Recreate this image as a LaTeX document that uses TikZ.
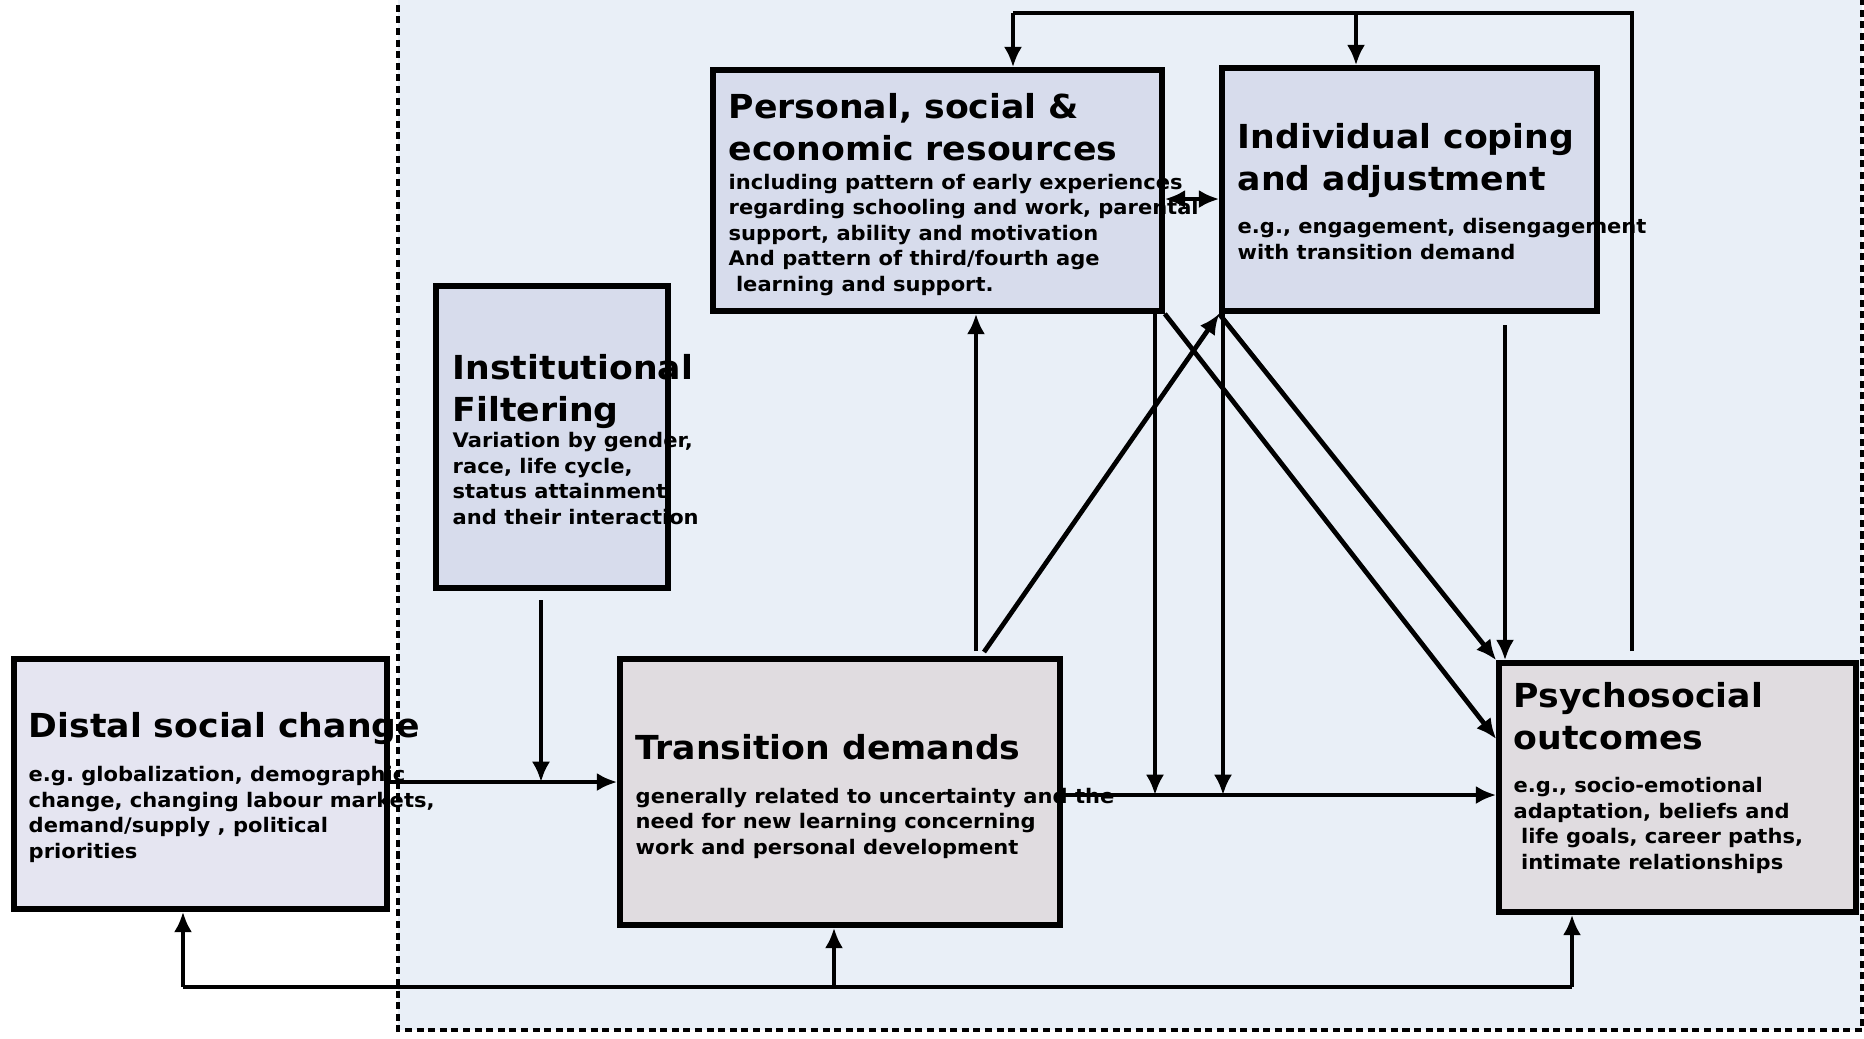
\documentclass[tikz,border=0pt]{standalone}
\usepackage{fontspec}
\setmainfont{DejaVu Sans}[FakeStretch=1.05]
\usetikzlibrary{arrows.meta,calc}
\definecolor{panelblue}{HTML}{E9EFF7}
\definecolor{distalfill}{HTML}{E5E5F1}
\definecolor{resourcefill}{HTML}{D7DCEC}
\definecolor{demandfill}{HTML}{E0DCE0}
\newcommand{\headfont}{\bfseries\fontsize{9.4}{11.8}\selectfont}
\newcommand{\bodyfont}{\bfseries\fontsize{5.7}{7.23}\selectfont}
\tikzset{>={Latex[length=5.8pt,width=5.2pt]}}
\tikzstyle{box}=[rectangle,draw=black,line width=1.6pt,inner sep=0pt]
\tikzstyle{distalbox}=[box,fill=distalfill]
\tikzstyle{resourcebox}=[box,fill=resourcefill]
\tikzstyle{demandbox}=[box,fill=demandfill]
\tikzstyle{head}=[anchor=base west,inner sep=0pt,align=left,font=\headfont]
\tikzstyle{body}=[anchor=base west,inner sep=0pt,align=left,font=\bodyfont]
\tikzstyle{link}=[line width=1.35pt]
\tikzstyle{frame}=[fill=panelblue,line width=1.2pt,dash pattern=on 2pt off 1.3pt]

\begin{document}
\begin{tikzpicture}
	\useasboundingbox (0,0) rectangle (18.64,-10.38);
	\draw[frame] (3.98,0.3) rectangle (18.62,-10.30);
	
	% boxes
	\node[distalbox, minimum width=3.73cm, minimum height=2.50cm] (distal) at (2.005,-7.84) {};
	\node[resourcebox, minimum width=2.32cm, minimum height=3.02cm] (filter) at (5.52,-4.37) {};
	\node[resourcebox, minimum width=4.49cm, minimum height=2.41cm] (resources) at (9.375,-1.905) {};
	\node[resourcebox, minimum width=3.75cm, minimum height=2.43cm] (coping) at (14.095,-1.895) {};
	\node[demandbox, minimum width=4.40cm, minimum height=2.66cm] (demands) at (8.40,-7.92) {};
	\node[demandbox, minimum width=3.57cm, minimum height=2.49cm] (outcomes) at (16.775,-7.875) {};
	
	% labels (anchored at the baseline of their last line)
	\node[head] (distalhead) at (0.28,-7.37) {Distal social change};
	\node[body] (distalbody) at (0.28,-8.58) {e.g.\ globalization, demographic\\change, changing labour markets,\\demand/supply , political\\priorities};
	\node[head] (filterhead) at (4.52,-4.21) {Institutional\\Filtering};
	\node[body] (filterbody) at (4.52,-5.24) {Variation by gender,\\race, life cycle,\\status attainment\\and their interaction};
	\node[head] (resourceshead) at (7.28,-1.60) {Personal, social \&\\economic resources};
	\node[body] (resourcesbody) at (7.28,-2.91) {including pattern of early experiences\\regarding schooling and work, parental\\support, ability and motivation\\And pattern of third/fourth age\\\ learning and support.};
	\node[head] (copinghead) at (12.37,-1.90) {Individual coping\\and adjustment};
	\node[body] (copingbody) at (12.37,-2.59) {e.g., engagement, disengagement\\with transition demand};
	\node[head] (demandshead) at (6.35,-7.59) {Transition demands};
	\node[body] (demandsbody) at (6.35,-8.54) {generally related to uncertainty and the\\need for new learning concerning\\work and personal development};
	\node[head] (outcomeshead) at (15.13,-7.49) {Psychosocial\\outcomes};
	\node[body] (outcomesbody) at (15.13,-8.69) {e.g., socio-emotional\\adaptation, beliefs and\\\ life goals, career paths,\\\ intimate relationships};
	
	% feedback from outcomes, top
	\coordinate (outtop) at (16.32,-6.51);
	\coordinate (topright) at (16.32,-0.13);
	\coordinate (topleft) at (10.13,-0.13);
	\coordinate (topmid) at (13.56,-0.13);
	\draw[link] (outtop) -- (topright) -- (topleft);
	\draw[link,->] (topleft) -- (topleft |- resources.north);
	\draw[link,->] (topmid) -- (topmid |- coping.north);
	
	% feedback bus, bottom
	\coordinate (busleft) at (1.83,-9.87);
	\coordinate (busmid) at (8.34,-9.87);
	\coordinate (busright) at (15.72,-9.87);
	\draw[link] (busleft) -- (busright);
	\draw[link,->] (busleft) -- (busleft |- distal.south);
	\draw[link,->] (busmid) -- (busmid |- demands.south);
	\draw[link,->] (busright) -- (busright |- outcomes.south);
	
	% into transition demands
	\coordinate (feed) at (5.41,-7.82);
	\coordinate (filterout) at (5.41,-6.00);
	\draw[link,->] (distal.east |- feed) -- (demands.west |- feed);
	\draw[link,->] (filterout) -- (feed);
	
	% into outcomes
	\coordinate (mainline) at (0,-7.95);
	\coordinate (dropA) at (11.55,-3.13);
	\coordinate (dropB) at (12.23,-3.13);
	\coordinate (copingout) at (15.05,-3.25);
	\draw[link,->] (demands.east |- mainline) -- (outcomes.west |- mainline);
	\draw[link,->] (dropA) -- (dropA |- mainline);
	\draw[link,->] (dropB) -- (dropB |- mainline);
	\draw[link,->] (resources.south east) -- (outcomes.west |- 0,-7.39);
	\draw[link,->] (coping.south west) -- (outcomes.north west);
	\draw[link,->] (copingout) -- (copingout |- outcomes.north);
	
	% up from transition demands
	\coordinate (upA) at (9.76,-6.51);
	\coordinate (upB) at (9.84,-6.52);
	\draw[link,->] (upA) -- (upA |- resources.south);
	\draw[link,->] (upB) -- (coping.south west);
	
	\draw[link,<->] (resources.east |- 0,-1.99) -- (coping.west |- 0,-1.99);
\end{tikzpicture}
\end{document}
